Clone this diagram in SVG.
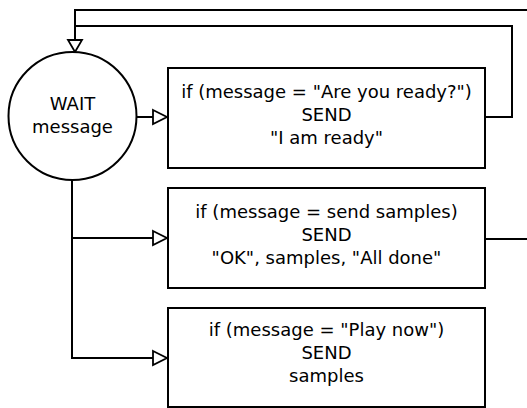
<svg xmlns="http://www.w3.org/2000/svg" width="527" height="408" viewBox="0 0 527 408">
<defs>
<style>
.ln{fill:none;stroke:#000;stroke-width:2}
.bx{fill:#fff;stroke:#000;stroke-width:2}
.ah{fill:#fff;stroke:#000;stroke-width:1.8;stroke-linejoin:miter}
text{font-family:"DejaVu Sans","Liberation Sans",sans-serif;font-size:18px;fill:#000;text-anchor:middle}
</style>
</defs>
<rect width="527" height="408" fill="#fff"/>
<g id="connectors">
<polyline class="ln" points="527,10 75,10 75,40"/>
<polyline class="ln" points="485,117 512,117 512,26 75,26"/>
<line class="ln" x1="137" y1="117" x2="153" y2="117"/>
<polyline class="ln" points="72,180 72,358 153,358"/>
<line class="ln" x1="72" y1="238" x2="153" y2="238"/>
<line class="ln" x1="485" y1="239" x2="527" y2="239"/>
<polygon class="ah" points="68,40 82,40 75,52"/>
<polygon class="ah" points="153,110 167,117 153,124"/>
<polygon class="ah" points="153,231 167,238 153,245"/>
<polygon class="ah" points="153,351 167,358 153,365"/>
</g>
<g id="wait">
<circle cx="72.5" cy="116" r="64" fill="#fff" stroke="#000" stroke-width="2"/>
<text x="72.5" y="110">WAIT</text>
<text x="72.5" y="133">message</text>
</g>
<g id="ready">
<rect class="bx" x="168" y="68" width="317" height="100"/>
<text x="326.5" y="98">if (message = "Are you ready?")</text>
<text x="326.5" y="121">SEND</text>
<text x="326.5" y="144">"I am ready"</text>
</g>
<g id="samples">
<rect class="bx" x="168" y="188" width="317" height="100"/>
<text x="326.5" y="218">if (message = send samples)</text>
<text x="326.5" y="241">SEND</text>
<text x="326.5" y="264">"OK", samples, "All done"</text>
</g>
<g id="play">
<rect class="bx" x="168" y="308" width="317" height="99"/>
<text x="326.5" y="336">if (message = "Play now")</text>
<text x="326.5" y="359">SEND</text>
<text x="326.5" y="382">samples</text>
</g>
</svg>
